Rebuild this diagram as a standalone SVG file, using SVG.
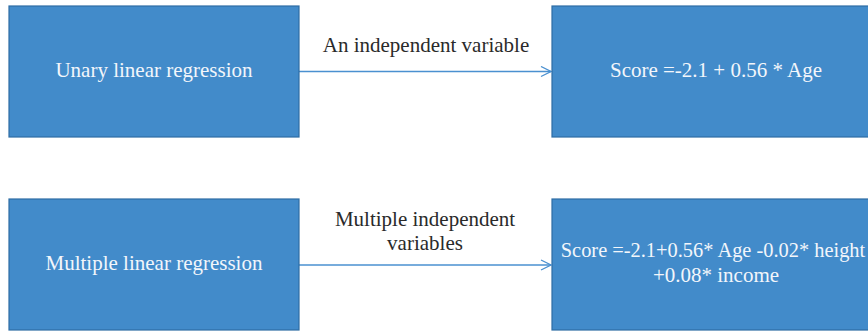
<svg xmlns="http://www.w3.org/2000/svg" width="868" height="332" viewBox="0 0 868 332">
  <style>
    .box { fill: #428bca; stroke: #2e6da4; stroke-width: 1.2; }
    .btxt { font-family: "Liberation Serif", "Times New Roman", serif; font-size: 21px; fill: #f2f6fb; text-anchor: middle; }
    .ltxt { font-family: "Liberation Serif", "Times New Roman", serif; font-size: 21px; fill: #2a2a2a; text-anchor: middle; }
    .conn { stroke: #4a90d0; stroke-width: 1.3; fill: none; }
  </style>
  <defs>
    <marker id="arrow" viewBox="0 0 12 12" refX="11" refY="6" markerWidth="12" markerHeight="12" markerUnits="userSpaceOnUse" orient="auto">
      <path d="M1,1 L11,6 L1,11" fill="none" stroke="#4a90d0" stroke-width="1.3"/>
    </marker>
  </defs>
  <rect width="868" height="332" fill="#ffffff"/>

  <g id="connectors">
    <line class="conn" x1="299" y1="71.5" x2="551" y2="71.5" marker-end="url(#arrow)"/>
    <line class="conn" x1="299" y1="265" x2="551" y2="265" marker-end="url(#arrow)"/>
  </g>

  <g id="label-single">
    <text class="ltxt" x="426" y="52">An independent variable</text>
  </g>
  <g id="label-multiple">
    <text class="ltxt" x="425" y="226">Multiple independent</text>
    <text class="ltxt" x="425" y="250">variables</text>
  </g>

  <g id="unary">
    <rect class="box" x="9" y="6" width="290" height="131"/>
    <text class="btxt" x="154" y="77">Unary linear regression</text>
  </g>
  <g id="unary-formula">
    <rect class="box" x="552" y="6" width="326" height="131"/>
    <text class="btxt" x="716" y="77">Score =-2.1 + 0.56 * Age</text>
  </g>
  <g id="multiple">
    <rect class="box" x="9" y="199" width="290" height="131"/>
    <text class="btxt" x="154" y="270">Multiple linear regression</text>
  </g>
  <g id="multiple-formula">
    <rect class="box" x="552" y="199" width="326" height="131"/>
    <text class="btxt" x="713" y="257" style="font-size:20.4px">Score =-2.1+0.56* Age -0.02* height</text>
    <text class="btxt" x="716" y="282">+0.08* income</text>
  </g>
</svg>
